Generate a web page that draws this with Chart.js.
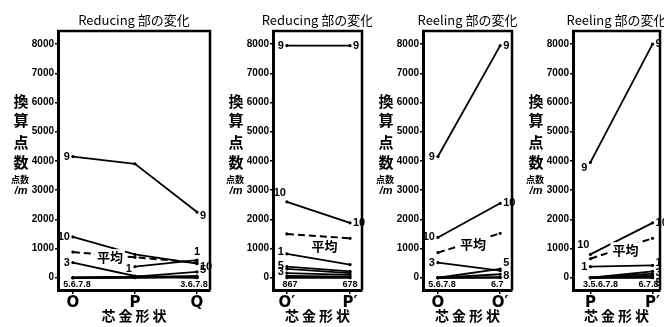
<!DOCTYPE html>
<html><head><meta charset="utf-8">
<script src="https://cdn.jsdelivr.net/npm/chart.js@4.4.1/dist/chart.umd.min.js"></script>
<style>
html,body{margin:0;padding:0;background:#fff;}
#wrap{position:relative;width:664px;height:327px;overflow:hidden;background:#fff;}
.pn{position:absolute;top:0;height:327px;}
canvas{display:block;}
</style></head><body>
<div id="wrap">
<div class="pn" style="left:0px"><canvas id="c1" width="222" height="327"></canvas></div>
<div class="pn" style="left:222px"><canvas id="c2" width="150" height="327"></canvas></div>
<div class="pn" style="left:372px"><canvas id="c3" width="150" height="327"></canvas></div>
<div class="pn" style="left:522px"><canvas id="c4" width="142" height="327"></canvas></div>
</div>
<script>
// ---------- data ----------
const panelTitles = ['Reducing 部の変化', 'Reducing 部の変化', 'Reeling 部の変化', 'Reeling 部の変化'];
const xAxisTitle = '芯金形状';
const yAxisTitleChars = ['換', '算', '点', '数'];
const yAxisUnit = ['点数', '/m'];
const avgName = '平均';

const cats1 = ['O', 'P', 'Q'];
const cats2 = ['O′', 'P′'];
const cats3 = ['O', 'O′'];
const cats4 = ['P', 'P′'];
const yTicks = [0, 1000, 2000, 3000, 4000, 5000, 6000, 7000, 8000];

// Panel 1: Reducing, O / P / Q
const p1_s9  = [4150, 3900, 2250];
const p1_s10 = [1400, 800, 480];
const p1_avg = [880, 700, 520];
const p1_s1  = [null, 380, 600];
const p1_s3  = [520, 60, 0];
const p1_s5  = [0, 40, 200];
const p1_s6  = [0, 20, 60];
const p1_s7  = [0, 10, 30];
const p1_s8  = [0, 0, 10];

// Panel 2: Reducing, O' / P'
const p2_s9  = [7950, 7950];
const p2_s10 = [2600, 1880];
const p2_avg = [1500, 1350];
const p2_s1  = [820, 450];
const p2_s5  = [380, 220];
const p2_s3  = [300, 160];
const p2_s6  = [160, 100];
const p2_s7  = [60, 40];
const p2_s8  = [0, 0];

// Panel 3: Reeling, O / O'
const p3_s9  = [4150, 7950];
const p3_s10 = [1380, 2550];
const p3_avg = [860, 1520];
const p3_s3  = [520, 240];
const p3_s5  = [0, 300];
const p3_s8  = [0, 120];
const p3_s6  = [0, 20];
const p3_s7  = [0, 0];

// Panel 4: Reeling, P / P'
const p4_s9  = [3950, 8000];
const p4_s10 = [800, 1880];
const p4_avg = [650, 1350];
const p4_s1  = [380, 420];
const p4_s3  = [0, 220];
const p4_s5  = [0, 140];
const p4_s6  = [0, 70];
const p4_s7  = [0, 20];
const p4_s8  = [0, 0];

// ---------- rendering ----------
const TICK_FONT = '"Liberation Sans", "DejaVu Sans", sans-serif';
const JP_FONT = '"Noto Sans CJK JP", "Noto Sans", sans-serif';

function ds(name, vals, dashed) {
  return {
    label: name,
    data: vals.map((v, i) => ({x: i, y: v})),
    borderColor: '#000',
    backgroundColor: '#000',
    borderWidth: dashed ? 2 : 1.8,
    borderDash: dashed ? [7, 4] : [],
    pointRadius: 1.6,
    pointBackgroundColor: '#000',
    pointBorderWidth: 0,
    tension: 0,
    fill: false,
    spanGaps: false
  };
}

const panelPlugin = {
  id: 'panelDeco',
  afterDraw(chart) {
    const o = chart.options.plugins.panelDeco;
    const ctx = chart.ctx;
    const a = chart.chartArea;
    const xs = chart.scales.x, ys = chart.scales.y;
    ctx.save();
    // frame: top & right
    ctx.strokeStyle = '#000';
    ctx.lineWidth = 2.5;
    ctx.beginPath();
    ctx.moveTo(a.left - 1, a.top);
    ctx.lineTo(a.right, a.top);
    ctx.lineTo(a.right, a.bottom);
    ctx.stroke();
    // title
    ctx.fillStyle = '#000';
    ctx.textAlign = 'center';
    ctx.textBaseline = 'middle';
    ctx.font = '13px ' + JP_FONT;
    ctx.fillText(o.title, (a.left + a.right) / 2, 20);
    // x axis title with letter spacing
    ctx.font = 'bold 14px ' + JP_FONT;
    try { ctx.letterSpacing = '3px'; } catch (e) {}
    ctx.fillText(xAxisTitle, (a.left + a.right) / 2 + 1.5, 316);
    try { ctx.letterSpacing = '0px'; } catch (e) {}
    // y axis title (stacked)
    ctx.font = 'bold 15px ' + JP_FONT;
    const yx = a.left - 37;
    const ypos = [101, 120, 142, 162];
    yAxisTitleChars.forEach((c, i) => ctx.fillText(c, yx, ypos[i]));
    ctx.font = 'bold 9px ' + JP_FONT;
    ctx.fillText(yAxisUnit[0], yx - 1, 180);
    ctx.font = 'italic bold 11px ' + TICK_FONT;
    ctx.fillText(yAxisUnit[1], yx, 191);
    // series labels
    ctx.font = 'bold 11px ' + TICK_FONT;
    const byName = {};
    chart.data.datasets.forEach((d, k) => byName[d.label] = k);
    o.labels.forEach(sp => {
      const k = byName[sp[0]];
      const pt = chart.data.datasets[k].data[sp[1]];
      if (!pt || pt.y == null) return;
      const px = xs.getPixelForValue(pt.x), py = ys.getPixelForValue(pt.y);
      const side = sp[2];
      const dy = sp[3] || 0;
      const txt = sp[4] || sp[0];
      if (side === 'l') { ctx.textAlign = 'right'; ctx.fillText(txt, px - 3, py + dy); }
      else if (side === 'r') { ctx.textAlign = 'left'; ctx.fillText(txt, px + 3, py + dy); }
      else if (side === 't') { ctx.textAlign = 'center'; ctx.fillText(txt, px, py - 8 + dy); }
      else if (side === 'tl') { ctx.textAlign = 'right'; ctx.fillText(txt, px - 1, py - 9 + dy); }
    });
    // grouped labels at baseline
    ctx.font = 'bold 9px ' + TICK_FONT;
    ctx.textAlign = 'center';
    o.groups.forEach(g => {
      const px = xs.getPixelForValue(g[0]) + (g[2] || 0);
      const py = ys.getPixelForValue(0) + 7;
      ctx.fillText(g[1], px, py);
      const w = ctx.measureText(g[1]).width;
      ctx.lineWidth = 1;
      ctx.beginPath();
      ctx.moveTo(px - w / 2, py + 5.5);
      ctx.lineTo(px + w / 2, py + 5.5);
      ctx.stroke();
    });
    // average label
    const ak = byName[avgName];
    if (ak != null) {
      const d = chart.data.datasets[ak].data;
      const x0 = xs.getPixelForValue(d[0].x), y0 = ys.getPixelForValue(d[0].y);
      const x1 = xs.getPixelForValue(d[1].x), y1 = ys.getPixelForValue(d[1].y);
      const mx = (x0 + x1) / 2 + o.avgDx, my = y0 + (y1 - y0) * ((mx - x0) / (x1 - x0)) + o.avgDy;
      ctx.font = 'bold 13px ' + JP_FONT;
      const w = ctx.measureText(avgName).width;
      ctx.fillStyle = '#fff';
      ctx.fillRect(mx - w / 2 - 2, my - 8, w + 4, 16);
      ctx.fillStyle = '#000';
      ctx.textAlign = 'center';
      ctx.fillText(avgName, mx, my);
    }
    ctx.restore();
  }
};

function makePanel(id, cats, datasets, cfg) {
  new Chart(document.getElementById(id), {
    type: 'line',
    data: {datasets},
    options: {
      responsive: false,
      animation: false,
      devicePixelRatio: 1,
      layout: {padding: {top: 31, right: cfg.rightPad, left: 0, bottom: 0}},
      plugins: {
        legend: {display: false},
        tooltip: {enabled: false},
        title: {display: false},
        panelDeco: {title: cfg.title, labels: cfg.labels, groups: cfg.groups, avgDx: cfg.avgDx || 0, avgDy: cfg.avgDy || 0}
      },
      scales: {
        x: {
          type: 'linear', min: cfg.xmin, max: cfg.xmax,
          afterBuildTicks: s => { s.ticks = cats.map((c, i) => ({value: i})); },
          afterFit: s => { s.height = 37; },
          ticks: {callback: v => cats[v], color: '#000', padding: 0, maxRotation: 0, autoSkip: false,
                  font: {family: '"DejaVu Sans", sans-serif', size: 15, weight: 'bold'}},
          grid: {drawOnChartArea: false, tickLength: 4, color: '#000', lineWidth: 1.5},
          border: {color: '#000', width: 3},
          title: {display: false}
        },
        y: {
          type: 'linear', min: -420, max: 8450,
          afterBuildTicks: s => { s.ticks = yTicks.map(v => ({value: v})); },
          afterFit: s => { s.width = cfg.yw; },
          ticks: {callback: v => String(v), color: '#000', padding: 1,
                  font: {family: TICK_FONT, size: 10, weight: 'bold'}},
          grid: {drawOnChartArea: false, tickLength: 3, color: '#000', lineWidth: 1.5},
          border: {color: '#000', width: 3}
        }
      }
    },
    plugins: [panelPlugin]
  });
}

makePanel('c1', cats1, [
  ds('9', p1_s9), ds('10', p1_s10), ds(avgName, p1_avg, true), ds('1', p1_s1),
  ds('3', p1_s3), ds('5', p1_s5), ds('6', p1_s6), ds('7', p1_s7), ds('8', p1_s8)
], {
  title: panelTitles[0], yw: 58, rightPad: 12, xmin: -0.24, xmax: 2.21, avgDx: 6, avgDy: 2,
  labels: [['9', 0, 'l'], ['9', 2, 'r', 4], ['10', 0, 'l'], ['10', 2, 'r', 3], ['1', 1, 'l', 2], ['1', 2, 't', 0],
           ['3', 0, 'l'], ['5', 2, 'r', -2]],
  groups: [[0, '5.6.7.8', 4], [2, '3.6.7.8', -3]]
});

makePanel('c2', cats2, [
  ds('9', p2_s9), ds('10', p2_s10), ds(avgName, p2_avg, true), ds('1', p2_s1),
  ds('5', p2_s5), ds('3', p2_s3), ds('6', p2_s6), ds('7', p2_s7), ds('8', p2_s8)
], {
  title: panelTitles[1], yw: 51, rightPad: 10, xmin: -0.22, xmax: 1.19, avgDx: 6, avgDy: 10,
  labels: [['9', 0, 'l'], ['9', 1, 'r'], ['10', 0, 'tl'], ['10', 1, 'r'], ['1', 0, 'l', -2], ['5', 0, 'l', -1],
           ['3', 0, 'l', 3]],
  groups: [[0, '867', 3], [1, '678', 0]]
});

makePanel('c3', cats3, [
  ds('9', p3_s9), ds('10', p3_s10), ds(avgName, p3_avg, true), ds('3', p3_s3),
  ds('5', p3_s5), ds('8', p3_s8), ds('6', p3_s6), ds('7', p3_s7)
], {
  title: panelTitles[2], yw: 51, rightPad: 10, xmin: -0.24, xmax: 1.19, avgDx: 4, avgDy: 2,
  labels: [['9', 0, 'l'], ['9', 1, 'r'], ['10', 0, 'l'], ['10', 1, 'r'], ['3', 0, 'l'], ['5', 1, 'r', -6], ['8', 1, 'r', 2]],
  groups: [[0, '5.6.7.8', 4], [1, '6.7', -3]]
});

makePanel('c4', cats4, [
  ds('9', p4_s9), ds('10', p4_s10), ds(avgName, p4_avg, true), ds('1', p4_s1),
  ds('3', p4_s3), ds('5', p4_s5), ds('6', p4_s6), ds('7', p4_s7), ds('8', p4_s8)
], {
  title: panelTitles[3], yw: 51, rightPad: 4, xmin: -0.28, xmax: 1.12, avgDx: 4, avgDy: 3,
  labels: [['9', 0, 'l', 6], ['9', 1, 'r'], ['10', 0, 'tl'], ['10', 1, 'r'], ['1', 0, 'l'], ['1', 1, 'r', -3],
           ['3', 1, 'r', 2], ['5', 1, 'r', 9]],
  groups: [[0, '3.5.6.7.8', 10], [1, '6.7.8', -4]]
});
</script>
</body></html>
